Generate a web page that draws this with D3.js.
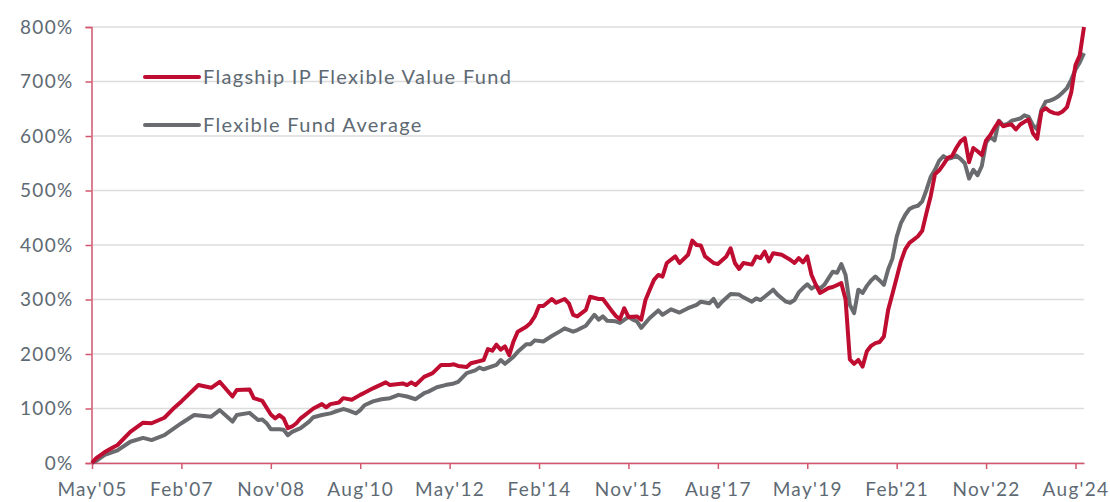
<!DOCTYPE html>
<html>
<head>
<meta charset="utf-8">
<script src="https://cdn.jsdelivr.net/npm/d3@7"></script>
<style>
  body { margin: 0; background: #fff; }
  .axis-label { font-family: Lato, "Open Sans", sans-serif; font-size: 19px; fill: #5e6a73; letter-spacing: 1.3px; }
  .legend-label { font-family: Lato, "Open Sans", sans-serif; font-size: 20px; fill: #5e6a73; letter-spacing: 1.3px; }
</style>
</head>
<body>
<svg id="chart"></svg>
<script>
// Data: months counted from May 2005, values in % growth
const tickLabels = ["May'05", "Feb'07", "Nov'08", "Aug'10", "May'12", "Feb'14", "Nov'15", "Aug'17", "May'19", "Feb'21", "Nov'22", "Aug'24"];
const yTicks = [0, 100, 200, 300, 400, 500, 600, 700, 800];

const fundMonth = [0,1,3,5,6,9,12,14,17,19,21,25,28,30,31,33,34,37,38,40,42,43,44,45,46,47,48,49,50,52,54,55,56,58,59,61,63,64,66,69,70,73,74,75,76,78,80,82,84,85,86,88,89,91,92,93,94,95,96,97,98,99,100,102,103,104,105,106,108,109,111,112,113,114,116,117,119,120,122,123,124,125,126,128,129,130,131,132,133,134,135,137,138,140,141,142,143,144,146,147,149,150,151,152,153,155,156,157,158,159,160,162,164,165,166,167,168,169,170,171,173,174,176,177,178,179,180,181,182,183,184,185,186,187,188,189,190,191,192,193,194,195,196,197,198,199,200,201,202,203,204,205,206,207,208,209,210,211,212,213,214,215,216,217,218,219,220,221,222,223,224,225,226,227,228,229,230,231,232,233];
const fundValue = [0,9,20,29,33,57,74,73,83,99,113,143,138,149,140,122,134,135,119,114,89,82,88,82,64,67,73,82,88,100,108,102,108,111,119,116,125,129,137,148,143,146,143,148,143,158,165,180,180,181,178,176,183,187,189,209,206,217,208,214,198,223,241,250,257,269,288,288,301,294,301,293,272,269,281,305,301,301,280,270,264,284,268,269,263,299,318,336,345,342,367,379,367,382,408,400,399,379,367,365,379,394,367,356,367,364,379,376,388,370,385,382,373,367,376,368,379,345,327,312,321,323,330,300,190,182,189,177,205,215,220,222,232,281,310,340,370,392,404,410,416,426,459,490,530,537,548,560,563,578,590,596,552,578,572,565,592,602,615,627,618,620,621,612,621,626,630,605,595,645,651,645,642,641,645,653,680,730,748,800];

const avgMonth = [0,1,3,6,9,12,14,17,21,24,28,30,33,34,37,39,40,41,42,44,45,46,47,49,51,52,54,56,57,59,60,62,63,64,66,68,70,72,74,76,78,79,81,83,85,86,88,90,91,92,95,96,97,99,100,102,103,104,106,108,110,111,113,114,116,118,119,120,121,123,124,126,127,128,129,131,133,134,136,138,140,142,143,145,146,147,148,150,152,153,155,156,157,158,160,161,163,164,165,166,167,168,169,170,171,172,174,175,176,177,178,179,180,181,182,183,184,185,186,187,188,189,190,191,192,193,194,195,196,197,198,199,200,201,202,203,204,205,206,207,208,209,210,211,212,213,214,215,216,217,218,219,220,221,222,223,224,225,226,227,228,229,230,231,232,233];
const avgValue = [0,4,15,23,39,46,42,51,73,88,85,97,76,88,92,79,80,73,62,62,61,51,57,64,76,84,88,91,94,99,97,91,97,106,113,117,119,125,122,117,128,131,139,143,146,149,165,170,175,172,180,189,182,195,204,218,218,225,223,233,242,247,241,244,252,272,263,269,261,260,257,268,263,260,248,266,280,272,282,276,284,290,296,293,301,287,296,310,309,304,296,302,299,305,318,309,296,294,299,313,321,328,320,325,320,327,351,349,365,345,290,275,318,312,325,335,342,335,327,355,375,415,440,455,466,470,472,480,501,525,538,555,563,558,560,564,558,550,522,538,528,545,588,598,592,628,620,622,628,630,632,638,635,620,612,648,663,665,668,673,680,688,703,722,735,752];

const seriesNames = ["Flagship IP Flexible Value Fund", "Flexible Fund Average"];
const seriesColors = ["#bf0d32", "#6a6b6f"];

// Size
const width = 1110;
const height = 502;
const margin = { top: 27, right: 26, bottom: 39, left: 92 };
const axisColor = "#d2566e";

const svg = d3.select("#chart")
    .attr("width", width)
    .attr("height", height);

const x = d3.scaleLinear()
    .domain([0, 233])
    .range([margin.left, width - margin.right]);

const y = d3.scaleLinear()
    .domain([0, 800])
    .range([height - margin.bottom, margin.top]);

// Grid
svg.append("g")
    .selectAll("line")
    .data(yTicks)
    .enter()
    .append("line")
    .attr("x1", margin.left)
    .attr("x2", width - margin.right)
    .attr("y1", d => y(d))
    .attr("y2", d => y(d))
    .attr("stroke", "#dcdcdc")
    .attr("stroke-width", 1.5);

// Y axis
const yAxis = svg.append("g")
    .attr("transform", `translate(${margin.left - 0.5},0)`)
    .call(d3.axisLeft(y).tickValues(yTicks).tickFormat(d => d + "%").tickSize(6).tickPadding(12));
yAxis.select(".domain").attr("stroke", axisColor).attr("stroke-width", 1.5);
yAxis.selectAll(".tick line").attr("stroke", axisColor).attr("stroke-width", 1.5);
yAxis.selectAll("text").attr("class", "axis-label").attr("font-family", null).attr("font-size", null);

// X axis
const xAxis = svg.append("g")
    .attr("transform", `translate(0,${y(0)})`)
    .call(d3.axisBottom(x)
        .tickValues(tickLabels.map((d, i) => i * 21))
        .tickFormat((d, i) => tickLabels[i])
        .tickSize(6)
        .tickSizeOuter(0)
        .tickPadding(14));
xAxis.select(".domain").attr("stroke", axisColor).attr("stroke-width", 1.5);
xAxis.selectAll(".tick line").attr("stroke", axisColor).attr("stroke-width", 1.5);
xAxis.selectAll("text").attr("class", "axis-label").attr("font-family", null).attr("font-size", null);

// Lines
const line = d3.line()
    .x(d => x(d[0]))
    .y(d => y(d[1]));

const series = [
    d3.zip(avgMonth, avgValue),
    d3.zip(fundMonth, fundValue)
];

svg.append("path")
    .datum(series[0])
    .attr("fill", "none")
    .attr("stroke", seriesColors[1])
    .attr("stroke-width", 4)
    .attr("stroke-linejoin", "round")
    .attr("d", line);

svg.append("path")
    .datum(series[1])
    .attr("fill", "none")
    .attr("stroke", seriesColors[0])
    .attr("stroke-width", 4)
    .attr("stroke-linejoin", "round")
    .attr("d", line);

// Legend
const legend = svg.append("g")
    .attr("transform", "translate(145, 77)");

seriesNames.forEach((name, i) => {
    legend.append("line")
        .attr("x1", 0).attr("x2", 54)
        .attr("y1", i * 48).attr("y2", i * 48)
        .attr("stroke", seriesColors[i])
        .attr("stroke-width", 4)
        .attr("stroke-linecap", "round");
    legend.append("text")
        .attr("class", "legend-label")
        .attr("x", 58)
        .attr("y", i * 48 + 7)
        .text(name);
});
</script>
</body>
</html>
